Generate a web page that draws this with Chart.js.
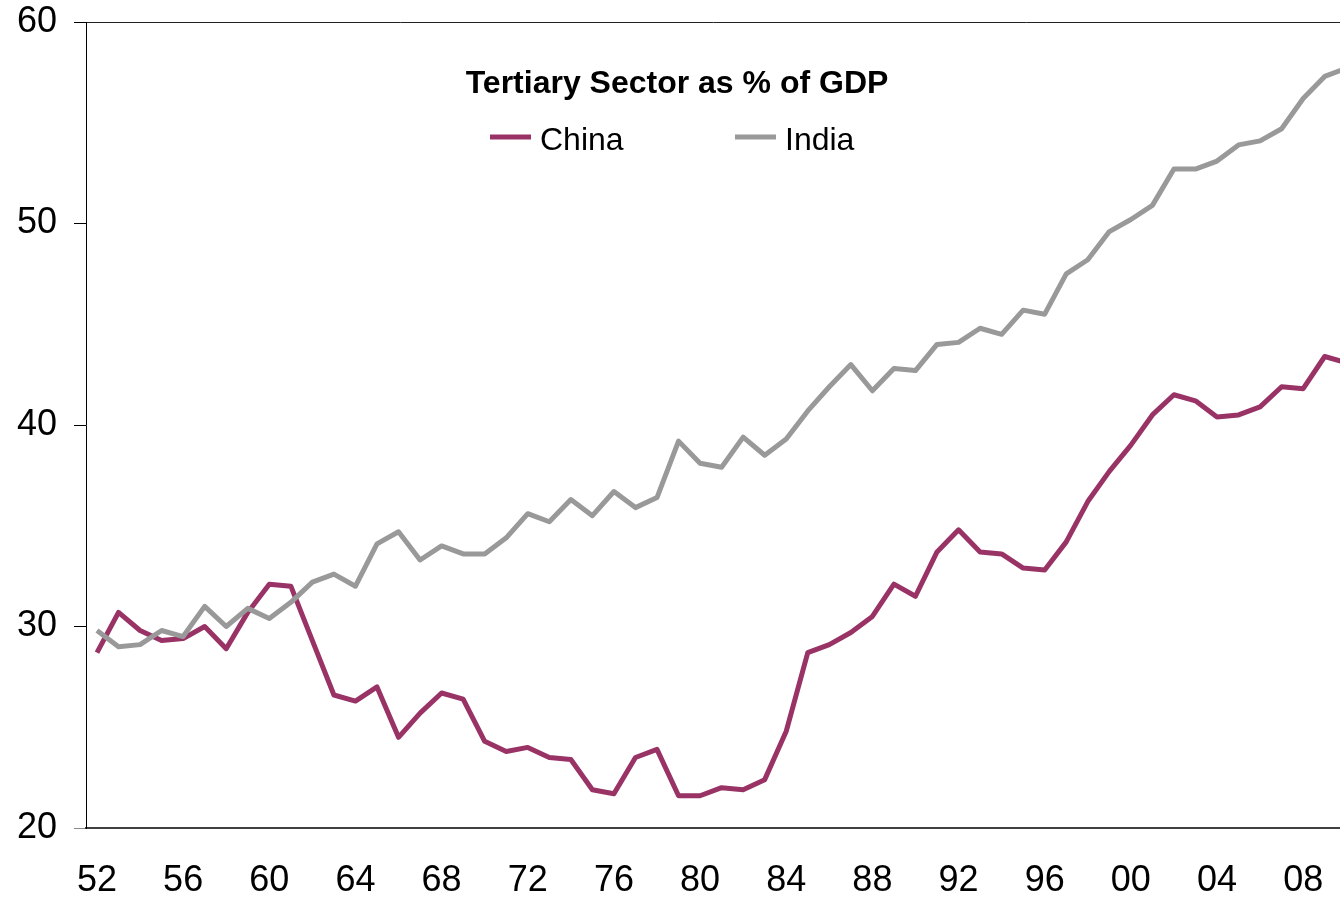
<!DOCTYPE html>
<html>
<head>
<meta charset="utf-8">
<script src="https://cdn.jsdelivr.net/npm/chart.js@4.4.1/dist/chart.umd.min.js"></script>
<style>
  html, body { margin: 0; padding: 0; background: #fff; overflow: hidden; }
  #wrap { width: 1340px; height: 898px; position: relative; }
</style>
</head>
<body>
<div id="wrap"><canvas id="c" width="1340" height="898"></canvas></div>
<script>
const years = [1952,1953,1954,1955,1956,1957,1958,1959,1960,1961,1962,1963,1964,1965,1966,1967,1968,1969,1970,1971,1972,1973,1974,1975,1976,1977,1978,1979,1980,1981,1982,1983,1984,1985,1986,1987,1988,1989,1990,1991,1992,1993,1994,1995,1996,1997,1998,1999,2000,2001,2002,2003,2004,2005,2006,2007,2008,2009,2010];
const china = [28.7,30.7,29.8,29.3,29.4,30.0,28.9,30.7,32.1,32.0,29.3,26.6,26.3,27.0,24.5,25.7,26.7,26.4,24.3,23.8,24.0,23.5,23.4,21.9,21.7,23.5,23.9,21.6,21.6,22.0,21.9,22.4,24.8,28.7,29.1,29.7,30.5,32.1,31.5,33.7,34.8,33.7,33.6,32.9,32.8,34.2,36.2,37.7,39.0,40.5,41.5,41.2,40.4,40.5,40.9,41.9,41.8,43.4,43.1];
const india = [29.8,29.0,29.1,29.8,29.5,31.0,30.0,30.9,30.4,31.2,32.2,32.6,32.0,34.1,34.7,33.3,34.0,33.6,33.6,34.4,35.6,35.2,36.3,35.5,36.7,35.9,36.4,39.2,38.1,37.9,39.4,38.5,39.3,40.7,41.9,43.0,41.7,42.8,42.7,44.0,44.1,44.8,44.5,45.7,45.5,47.5,48.2,49.6,50.2,50.9,52.7,52.7,53.1,53.9,54.1,54.7,56.2,57.3,57.7];
const xTickYears = [1952,1956,1960,1964,1968,1972,1976,1980,1984,1988,1992,1996,2000,2004,2008];
const xTickLabels = ['52','56','60','64','68','72','76','80','84','88','92','96','00','04','08'];
const yTicks = [20,30,40,50,60];
const seriesNames = ['China','India'];
const titleText = 'Tertiary Sector as % of GDP';

const FONT = '"Liberation Sans", Arial, Helvetica, sans-serif';

const overlay = {
  id: 'overlay',
  afterDraw(chart) {
    const ctx = chart.ctx;
    ctx.save();
    ctx.fillStyle = '#000';
    ctx.font = 'bold 32px ' + FONT;
    ctx.textAlign = 'center';
    ctx.textBaseline = 'alphabetic';
    ctx.fillText(titleText, 677, 93);
    ctx.font = '32px ' + FONT;
    ctx.textAlign = 'left';
    const lx = [490, 735];
    chart.data.datasets.forEach((ds, i) => {
      ctx.strokeStyle = ds.borderColor;
      ctx.lineWidth = 5;
      ctx.beginPath();
      ctx.moveTo(lx[i], 137);
      ctx.lineTo(lx[i] + 41, 137);
      ctx.stroke();
      ctx.fillStyle = '#000';
      ctx.fillText(ds.label, lx[i] + 50, 150);
    });
    ctx.restore();
  }
};

new Chart(document.getElementById('c'), {
  type: 'line',
  data: {
    datasets: [
      { label: seriesNames[0], data: years.map((y, i) => ({ x: y, y: china[i] })), borderColor: '#993366', borderWidth: 5, pointRadius: 0, tension: 0, borderJoinStyle: 'round', order: 1 },
      { label: seriesNames[1], data: years.map((y, i) => ({ x: y, y: india[i] })), borderColor: '#999999', borderWidth: 5, pointRadius: 0, tension: 0, borderJoinStyle: 'round', order: 0 }
    ]
  },
  options: {
    responsive: false,
    animation: false,
    events: [],
    layout: { padding: { top: 22, left: 0, right: 0, bottom: 0 } },
    plugins: { legend: { display: false }, title: { display: false }, tooltip: { enabled: false } },
    scales: {
      x: {
        type: 'linear',
        min: 1951.49,
        max: 2009.71,
        afterBuildTicks: (s) => { s.ticks = xTickYears.map(v => ({ value: v })); },
        afterFit: (s) => { s.height = 70; s.paddingLeft = 0; s.paddingRight = 0; },
        grid: { display: false },
        border: { display: true, color: '#404040', width: 2 },
        ticks: {
          font: { size: 36, family: FONT },
          color: '#000',
          padding: 23,
          maxRotation: 0,
          autoSkip: false,
          callback: (v) => xTickLabels[xTickYears.indexOf(v)]
        }
      },
      y: {
        min: 20,
        max: 60,
        afterBuildTicks: (s) => { s.ticks = yTicks.map(v => ({ value: v })); },
        afterFit: (s) => { s.width = 86; s.paddingTop = 0; s.paddingBottom = 0; },
        grid: {
          color: (c) => (c.tick && c.tick.value === 60 ? '#222' : 'rgba(0,0,0,0)'),
          tickColor: (c) => (c.tick && c.tick.value === 20 ? '#888' : '#000'),
          tickLength: 12,
          lineWidth: 1,
          drawTicks: true
        },
        border: { display: true, color: '#000', width: 1 },
        ticks: {
          font: { size: 36, family: FONT },
          color: '#000',
          padding: 17
        }
      }
    }
  },
  plugins: [overlay]
});
</script>
</body>
</html>
